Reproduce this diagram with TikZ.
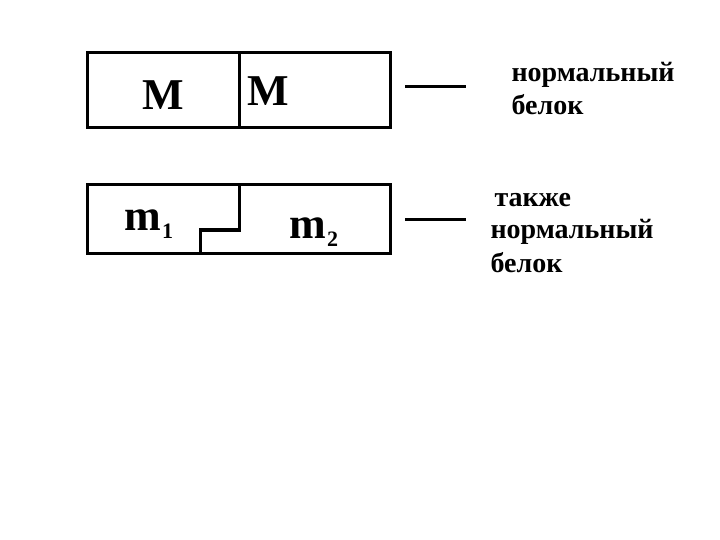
\documentclass[tikz,border=0pt]{standalone}
\usepackage{fontspec}
\setmainfont{Liberation Serif}
\begin{document}
\begin{tikzpicture}[x=1pt,y=-1pt,line width=3pt,
  big/.style={inner sep=0pt,anchor=base west,font=\fontsize{44}{50}\selectfont\bfseries},
  sub/.style={inner sep=0pt,anchor=base west,font=\fontsize{22}{26}\selectfont\bfseries},
  label/.style={inner sep=0pt,anchor=base west,align=left,font=\fontsize{28}{33}\selectfont\bfseries}]
\useasboundingbox (0,0) rectangle (720,540);
% top box
\draw (87,53) rectangle (390,128);
\draw (239,53) -- (239,128);
% bottom box
\draw (87,185) rectangle (390,253);
\draw (239,185) -- (239,230) -- (200,230) -- (200,253);
% letters
\node[big] (M1) at (141,110) {М};
\node[big] (M2) at (246,106) {М};
\node[big] (m1) at (123,230) {m};
\node[sub] (s1) at (m1.base east) [yshift=-8pt,xshift=-2pt] {1};
\node[big] (m2) at (288,238) {m};
\node[sub] (s2) at (m2.base east) [yshift=-9pt,xshift=-2pt] {2};
% dashes
\coordinate (d1a) at (405,87); \coordinate (d1b) at (466,87);
\coordinate (d2a) at (405,220); \coordinate (d2b) at (466,220);
\draw (d1a) -- (d1b);
\draw (d2a) -- (d2b);
% labels (base = baseline of last line)
\node[label] (t1) at (510,115) {нормальный\\белок};
\node[label] (t2) at (489,272) {\hspace{4pt}также\\нормальный\\белок};
\end{tikzpicture}
\end{document}
